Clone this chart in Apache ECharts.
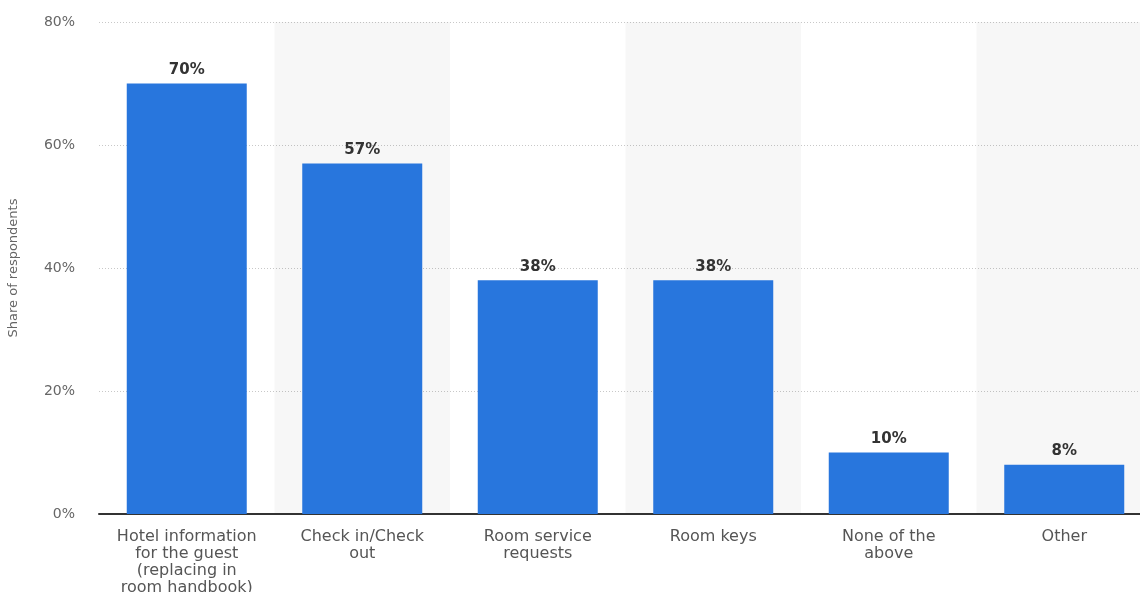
<!DOCTYPE html>
<html><head><meta charset="utf-8">
<script src="https://cdn.jsdelivr.net/npm/echarts@6/dist/echarts.min.js"></script>
<style>html,body{margin:0;padding:0;background:#fff;overflow:hidden}#c{width:1140px;height:592px}</style>
</head><body><div id="c"></div>
<script>
const categories = ["Hotel information\nfor the guest\n(replacing in\nroom handbook)", "Check in/Check\nout", "Room service\nrequests", "Room keys", "None of the\nabove", "Other"];
const values = [70, 57, 38, 38, 10, 8];
const yTicks = [0, 20, 40, 60, 80];

const chart = echarts.init(document.getElementById('c'));
chart.setOption({
  animation: false,
  textStyle: { fontFamily: 'DejaVu Sans' },
  grid: { left: 99, top: 22, bottom: 78, width: 1053, outerBoundsMode: 'none', containLabel: false },
  xAxis: {
    type: 'category',
    data: categories,
    z: 2,
    axisTick: { show: false },
    axisLine: { lineStyle: { color: '#333', width: 2 } },
    axisLabel: { color: '#555', fontSize: 16, lineHeight: 17, margin: 14, interval: 0, fontFamily: 'DejaVu Sans' },
    splitArea: { show: true, areaStyle: { color: ['rgba(0,0,0,0)', 'rgba(0,0,0,0.03)'] } }
  },
  yAxis: {
    type: 'value',
    z: 1,
    min: yTicks[0], max: yTicks[yTicks.length - 1], interval: 20,
    name: 'Share of respondents',
    nameLocation: 'middle',
    nameGap: 79,
    nameTextStyle: { color: '#666', fontSize: 13, fontFamily: 'DejaVu Sans' },
    axisLabel: { formatter: '{value}%', color: '#666', fontSize: 14, margin: 24 },
    axisLine: { show: false },
    axisTick: { show: false },
    splitLine: { lineStyle: { color: '#c8c8c8', type: [1, 2] } }
  },
  series: [{
    type: 'bar',
    z: 4,
    data: values,
    barWidth: 120,
    itemStyle: { color: '#2876dd' },
    label: { show: true, position: 'top', formatter: '{c}%', color: '#333', fontSize: 15, fontWeight: 'bold', distance: 6 }
  }]
});
</script></body></html>
